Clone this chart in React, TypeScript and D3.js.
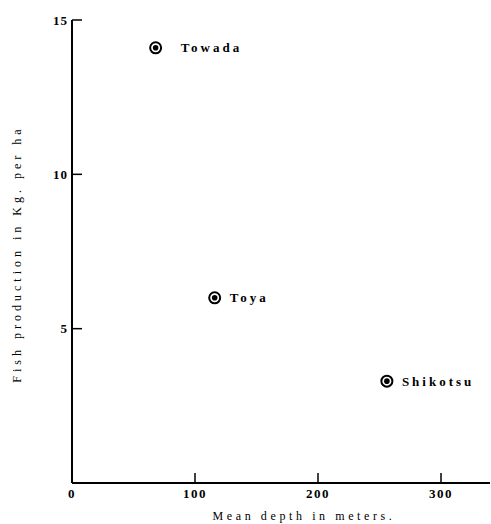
import React from 'react';
import * as d3 from 'd3';

// lakes: mean depth (m) vs fish production (kg per ha)
const lakes = ['Towada', 'Toya', 'Shikotsu'];
const depth = [68, 116, 256];
const production = [14.1, 6.0, 3.3];
const xTicks = [0, 100, 200, 300];
const yTicks = [5, 10, 15];

const W = 491;
const H = 524;
const margin = { top: 20, right: 1, bottom: 41, left: 72 };

export default function App() {
  const x = d3.scaleLinear().domain([0, 300]).range([margin.left, 441]);
  const y = d3.scaleLinear().domain([0, 15]).range([H - margin.bottom, margin.top]);
  const x0 = x(0);
  const y0 = y(0);
  const font = '"Liberation Serif", "DejaVu Serif", serif';

  return (
    <div style={{ position: 'absolute', left: 0, top: 0 }}>
      <svg width={W} height={H} style={{ display: 'block', background: '#fff' }} fontFamily={font}>
        {/* axes */}
        <line x1={x0} x2={W - margin.right} y1={y0} y2={y0} stroke="#000" strokeWidth={2} />
        <line x1={x0} x2={x0} y1={y(15)} y2={y0} stroke="#000" strokeWidth={2} />

        {yTicks.map((t) => (
          <g key={'y' + t}>
            <line x1={x0} x2={x0 + 10} y1={y(t)} y2={y(t)} stroke="#000" strokeWidth={1.5} />
            <text x={x0 - 4} y={y(t)} dy="0.35em" textAnchor="end" fontSize={13} fontWeight="bold" letterSpacing={1}>{t}</text>
          </g>
        ))}
        {xTicks.map((t) => (
          <g key={'x' + t}>
            {t > 0 && <line x1={x(t)} x2={x(t)} y1={y0} y2={y0 - 10} stroke="#000" strokeWidth={1.5} />}
            <text x={x(t)} y={y0 + 15} textAnchor="middle" fontSize={13} fontWeight="bold" letterSpacing={1.5}>{t}</text>
          </g>
        ))}

        {/* points */}
        {lakes.map((name, i) => {
          const cx = x(depth[i]);
          const cy = y(production[i]);
          const gap = i === 0 ? 25 : 15;
          return (
            <g key={name}>
              <circle cx={cx} cy={cy} r={5.5} fill="#fff" stroke="#000" strokeWidth={2} />
              <circle cx={cx} cy={cy} r={2.8} fill="#000" />
              <text x={cx + gap} y={cy} dy="0.35em" fontSize={13} fontWeight="bold" letterSpacing={3}>{name}</text>
            </g>
          );
        })}

        {/* axis titles */}
        <text x={304} y={520} textAnchor="middle" fontSize={12} letterSpacing={3.6}>Mean depth in meters.</text>
        <text transform="translate(21,254) rotate(-90)" textAnchor="middle" fontSize={12} letterSpacing={4}>
          Fish production in Kg. per ha
        </text>
      </svg>
    </div>
  );
}
